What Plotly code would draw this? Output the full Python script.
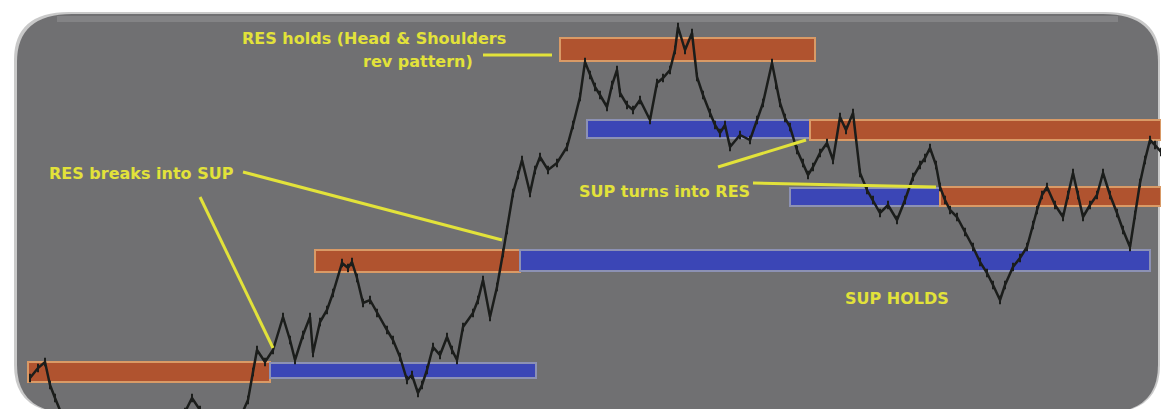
import plotly.graph_objects as go

# ---- price series (bar index, price) ----
bar_idx = [30, 38, 45, 50, 55, 62, 120, 185, 192, 200, 240, 248, 253, 257, 265, 273, 283, 290, 295, 303,
           310, 313, 320, 327, 333, 342, 348, 352, 357, 363, 370, 377, 387, 393, 400, 407, 412, 418, 422, 427,
           433, 440, 447, 452, 457, 463, 473, 478, 483, 490, 497, 503, 507, 513, 518, 522, 530, 535, 540, 548,
           557, 567, 573, 580, 585, 590, 595, 600, 607, 612, 617, 620, 627, 633, 640, 650, 657, 663, 670, 675,
           678, 685, 692, 697, 703, 710, 715, 720, 725, 730, 740, 750, 757, 763, 772, 776, 780, 785, 790, 797,
           803, 808, 813, 820, 827, 833, 840, 846, 853, 860, 867, 873, 880, 888, 897, 905, 913, 920, 925, 930,
           936, 940, 945, 950, 957, 965, 973, 980, 987, 993, 1000, 1005, 1013, 1020, 1027, 1033, 1037, 1042, 1047, 1055,
           1063, 1068, 1073, 1078, 1083, 1090, 1097, 1103, 1110, 1117, 1123, 1130, 1135, 1140, 1145, 1150, 1155, 1161]
price = [31, 41, 47, 24, 11, -6, -16, -3, 11, -1, -9, 9, 37, 59, 47, 59, 92, 69, 49, 74,
         92, 56, 87, 99, 116, 146, 141, 147, 131, 106, 109, 96, 79, 69, 52, 29, 34, 16, 24, 39,
         62, 54, 72, 59, 49, 82, 96, 109, 129, 92, 122, 156, 179, 216, 234, 249, 216, 239, 252, 239,
         246, 262, 284, 312, 347, 334, 322, 314, 302, 324, 339, 316, 304, 299, 309, 289, 326, 331, 339, 359,
         382, 359, 376, 332, 314, 296, 284, 276, 284, 262, 274, 269, 289, 306, 346, 324, 306, 291, 282, 259,
         246, 234, 242, 256, 266, 249, 292, 279, 296, 236, 219, 209, 196, 204, 189, 209, 232, 244, 251, 261,
         244, 222, 209, 199, 192, 177, 162, 147, 136, 124, 109, 124, 142, 151, 162, 184, 199, 214, 222, 204,
         192, 214, 236, 214, 192, 204, 214, 236, 214, 196, 179, 162, 194, 226, 249, 269, 264, 257]

# ---- support / resistance zones ----
zone_kind = ["RES", "SUP", "RES", "SUP", "RES", "SUP", "RES", "SUP", "RES"]
zone_start = [28, 270, 315, 520, 560, 587, 810, 790, 940]
zone_end = [270, 536, 520, 1150, 815, 810, 1161, 940, 1161]
zone_low = [27, 31, 137, 138, 348, 271, 269, 203, 203]
zone_high = [47, 46, 159, 159, 371, 289, 289, 221, 222]

# ---- annotation texts ----
label_text = ["RES holds (Head & Shoulders", "rev pattern)", "RES breaks into SUP", "SUP turns into RES", "SUP HOLDS"]
label_x = [508, 475, 47, 577, 843]
label_y = [371, 348, 236, 218, 111]
label_anchor = ["right", "right", "left", "left", "left"]

pointer_x0 = [483, 243, 200, 718, 753]
pointer_y0 = [354, 237, 212, 242, 226]
pointer_x1 = [552, 502, 273, 806, 936]
pointer_y1 = [354, 169, 61, 269, 222]

YELLOW = "#e2e23a"
PANEL = "#707072"

fig = go.Figure()

shapes = []
# rounded panel
L, R, B, T, r, rv = 14, 1160, -4, 397, 55, 48
panel_path = (f"M {L+r},{T} L {R-r},{T} Q {R},{T} {R},{T-rv} L {R},{B+rv} Q {R},{B} {R-r},{B} "
              f"L {L+r},{B} Q {L},{B} {L},{B+rv} L {L},{T-rv} Q {L},{T} {L+r},{T} Z")
shapes.append(dict(type="path", path=panel_path, fillcolor="#c9c9c9", line=dict(width=0),
                   layer="below", xref="x", yref="y"))
L2, R2, B2, T2 = L + 3, R - 2, B, T - 2
panel_path2 = (f"M {L2+r},{T2} L {R2-r},{T2} Q {R2},{T2} {R2},{T2-rv} L {R2},{B2+rv} Q {R2},{B2} {R2-r},{B2} "
               f"L {L2+r},{B2} Q {L2},{B2} {L2},{B2+rv} L {L2},{T2-rv} Q {L2},{T2} {L2+r},{T2} Z")
shapes.append(dict(type="path", path=panel_path2, fillcolor=PANEL, line=dict(width=0),
                   layer="below", xref="x", yref="y"))
# top gloss
shapes.append(dict(type="rect", x0=L2 + 40, x1=R2 - 40, y0=T2 - 8, y1=T2 - 2,
                   fillcolor="#838385", line=dict(width=0), layer="below"))

for k, x0, x1, lo, hi in zip(zone_kind, zone_start, zone_end, zone_low, zone_high):
    if k == "RES":
        fill, edge = "#b0532f", "#d99a66"
    else:
        fill, edge = "#3b46b6", "#8c91b4"
    shapes.append(dict(type="rect", x0=x0, x1=x1, y0=lo, y1=hi, fillcolor=fill,
                       line=dict(color=edge, width=2), layer="below"))

for x0, y0, x1, y1 in zip(pointer_x0, pointer_y0, pointer_x1, pointer_y1):
    shapes.append(dict(type="line", x0=x0, y0=y0, x1=x1, y1=y1,
                       line=dict(color=YELLOW, width=3), layer="above"))

fig.add_trace(go.Scatter(x=bar_idx, y=price, mode="lines+markers",
                         line=dict(color="#1b1d1b", width=2.5),
                         marker=dict(size=6, color="#1b1d1b", symbol="line-ns",
                                     line=dict(color="#1b1d1b", width=2)),
                         hoverinfo="skip", showlegend=False))

annotations = []
for t, x, y, a in zip(label_text, label_x, label_y, label_anchor):
    annotations.append(dict(x=x, y=y, text=t, showarrow=False, xanchor=a, yanchor="middle",
                            font=dict(family="DejaVu Sans", size=16, color=YELLOW, weight="bold")))

fig.update_layout(
    width=1161, height=409,
    margin=dict(l=0, r=0, t=0, b=0),
    paper_bgcolor="white", plot_bgcolor="white",
    xaxis=dict(range=[0, 1161], visible=False, fixedrange=True),
    yaxis=dict(range=[0, 409], visible=False, fixedrange=True),
    shapes=shapes, annotations=annotations, showlegend=False,
)

fig.write_html("out.html", config={"displayModeBar": False},
               post_script="document.body.style.margin='0px';document.body.style.overflow='hidden';")
